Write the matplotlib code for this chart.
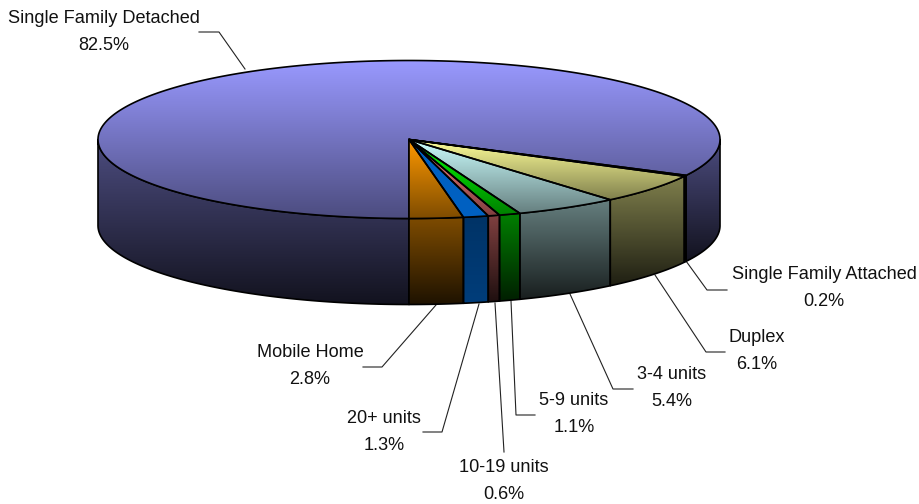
import numpy as np
from matplotlib import pyplot as plt
from matplotlib.colors import to_rgb
from matplotlib.patches import Polygon

plt.rcParams['font.family'] = ['Liberation Sans', 'DejaVu Sans']

# going counter clockwise from straight down
categories = ['Mobile Home', '20+ units', '10-19 units', '5-9 units', '3-4 units',
              'Duplex', 'Single Family Attached', 'Single Family Detached']
shares = [2.8, 1.3, 0.6, 1.1, 5.4, 6.1, 0.2, 82.5]
colors = ['#FF9900', '#0066CC', '#FF8080', '#00FF00', '#CCFFFF', '#FFFF99', '#222222', '#9999FF']

# where the labels and their leader lines go, in pixels
label_pos = [(310, 366), (384, 432), (504, 481), (574, 414), (672, 388),
             (757, 351), (824, 288), (104, 32)]
leaders = [[(436, 305), (382, 367), (363, 367)],
           [(479, 304), (442, 432), (423, 432)],
           [(495, 303), (504, 452)],
           [(511, 301), (516, 415), (535, 415)],
           [(570, 294), (613, 389), (633, 389)],
           [(655, 275), (706, 352), (725, 352)],
           [(686, 261), (707, 290), (727, 290)],
           [(199, 32), (219, 32), (245, 69)]]

cx, cy = 409, 139.5
rx, ry = 311, 79
depth = 86


def rim(t):
    return cx + rx * np.sin(t), cy + ry * np.cos(t)


def gradient_fill(ax, xs, ys, color, top, bottom, zorder):
    # vertical gradient over the polygon, clipped to its shape
    points = np.column_stack([xs, ys])
    shape = np.linspace(top, bottom, 256)[:, None, None] * np.array(to_rgb(color))[None, None, :]
    img = ax.imshow(shape, extent=(min(xs), max(xs), max(ys), min(ys)), aspect='auto',
                    interpolation='bilinear', zorder=zorder)
    poly = Polygon(points, closed=True, transform=ax.transData, fc='none', ec='black',
                   lw=1.2, joinstyle='round', zorder=zorder + 0.5)
    ax.add_patch(poly)
    img.set_clip_path(poly)


def draw_side(ax, t0, t1, color, zorder, bottom=0.12):
    t = np.linspace(t0, t1, 80)
    x, y = rim(t)
    xs = np.r_[x, x[::-1]]
    ys = np.r_[y, y[::-1] + depth]
    gradient_fill(ax, xs, ys, color, 0.5, bottom, zorder)


fig = plt.figure(figsize=(9.2, 5.04), dpi=100)
ax = fig.add_axes([0, 0, 1, 1])

edges = np.radians(np.r_[0, np.cumsum(shares)] * 3.6)

# the big slice wraps round, so its two visible side pieces go in first
draw_side(ax, np.radians(270), np.radians(360), colors[7], 2)
draw_side(ax, edges[7], np.radians(90), colors[7], 2)
for i in range(7):
    # the blue slice hardly fades in the original
    draw_side(ax, edges[i], edges[i + 1], colors[i], 3, 0.6 if i == 1 else 0.12)

for i in range(8):
    t = np.linspace(edges[i], edges[i + 1], max(4, int(shares[i] * 8)))
    x, y = rim(t)
    gradient_fill(ax, np.r_[cx, x], np.r_[cy, y], colors[i], 0.95 if i == 1 else 1.0,
                  0.95 if i == 1 else 0.5, 5 if i < 7 else 4)

for i in range(8):
    xs, ys = zip(*leaders[i])
    ax.plot(xs, ys, color='#222222', lw=0.8, zorder=1)
    ax.text(label_pos[i][0], label_pos[i][1], '%s\n%.1f%%' % (categories[i], shares[i]),
            ha='center', va='center', fontsize=13.1, linespacing=1.72, color='#111111', zorder=6)

ax.set_xlim(0, 920)
ax.set_ylim(504, 0)
ax.axis('off')
fig.savefig('out.png', dpi=100, facecolor='white')
